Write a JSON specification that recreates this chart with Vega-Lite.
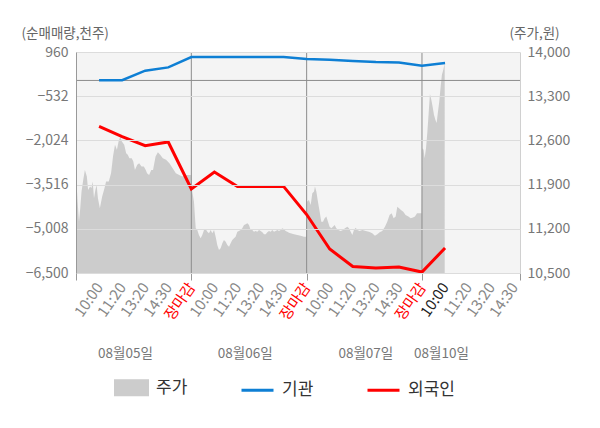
{
  "$schema": "https://vega.github.io/schema/vega-lite/v6.json",
  "width": 444,
  "height": 221,
  "autosize": "none",
  "padding": {"left": 76, "top": 52, "right": 80, "bottom": 155},
  "datasets": {
    "price": [
      {"u": 0, "p": 12081}, {"u": 1.4, "p": 11630}, {"u": 2.6, "p": 11313}, {"u": 3.7, "p": 11531}, {"u": 4.8, "p": 11789},
      {"u": 6.3, "p": 11975}, {"u": 7.7, "p": 12133}, {"u": 9.4, "p": 12027}, {"u": 10.5, "p": 11816}, {"u": 12.2, "p": 11868},
      {"u": 13.4, "p": 11848}, {"u": 14.5, "p": 11948}, {"u": 15.6, "p": 11684}, {"u": 16.8, "p": 11816}, {"u": 17.9, "p": 11895},
      {"u": 19, "p": 11684}, {"u": 20.7, "p": 11526}, {"u": 22.7, "p": 11710}, {"u": 24.7, "p": 11843}, {"u": 26.1, "p": 11948},
      {"u": 28.4, "p": 11948}, {"u": 30.4, "p": 12081}, {"u": 32.1, "p": 12344}, {"u": 33.8, "p": 12530}, {"u": 35.5, "p": 12450},
      {"u": 36.9, "p": 12582}, {"u": 38.4, "p": 12661}, {"u": 39.8, "p": 12582}, {"u": 41.8, "p": 12530}, {"u": 43.5, "p": 12398},
      {"u": 44.9, "p": 12371}, {"u": 46.3, "p": 12319}, {"u": 48.3, "p": 12319}, {"u": 49.7, "p": 12265}, {"u": 51.1, "p": 12133},
      {"u": 53.1, "p": 12213}, {"u": 54.8, "p": 12240}, {"u": 56.8, "p": 12186}, {"u": 58.8, "p": 12186}, {"u": 60.5, "p": 12133},
      {"u": 61.6, "p": 12081}, {"u": 63.4, "p": 12054}, {"u": 65.3, "p": 12133}, {"u": 66.8, "p": 12133}, {"u": 69, "p": 12344},
      {"u": 71, "p": 12414}, {"u": 73, "p": 12371}, {"u": 75.3, "p": 12319}, {"u": 78.1, "p": 12292}, {"u": 81, "p": 12240},
      {"u": 83.8, "p": 12160}, {"u": 86.6, "p": 12081}, {"u": 89.5, "p": 12054}, {"u": 92.3, "p": 12027}, {"u": 95.2, "p": 12054},
      {"u": 98, "p": 12054}, {"u": 99.6, "p": 12054},
      {"u": 100.3, "p": 11848}, {"u": 102.3, "p": 11630}, {"u": 103.8, "p": 11209}, {"u": 105.2, "p": 11182}, {"u": 106.6, "p": 11102},
      {"u": 108.1, "p": 11050}, {"u": 109.5, "p": 11102}, {"u": 111, "p": 11182}, {"u": 112.4, "p": 11198}, {"u": 113.9, "p": 11155},
      {"u": 115.3, "p": 11129}, {"u": 116.8, "p": 11182}, {"u": 118.2, "p": 11129}, {"u": 119.7, "p": 11182}, {"u": 121.1, "p": 11075},
      {"u": 122.5, "p": 10944}, {"u": 124, "p": 10864}, {"u": 125.4, "p": 10891}, {"u": 126.9, "p": 10971}, {"u": 128.3, "p": 11023},
      {"u": 129.8, "p": 10996}, {"u": 131.2, "p": 10944}, {"u": 132.7, "p": 10917}, {"u": 134.1, "p": 10971}, {"u": 135.5, "p": 11023},
      {"u": 137, "p": 11050}, {"u": 138.4, "p": 11075}, {"u": 139.9, "p": 11155}, {"u": 141.3, "p": 11166}, {"u": 142.8, "p": 11182},
      {"u": 144.2, "p": 11209}, {"u": 145.7, "p": 11261}, {"u": 147.1, "p": 11272}, {"u": 148.6, "p": 11288}, {"u": 150, "p": 11261},
      {"u": 151.4, "p": 11182}, {"u": 152.9, "p": 11182}, {"u": 154.3, "p": 11155}, {"u": 155.8, "p": 11166}, {"u": 157.2, "p": 11155},
      {"u": 158.7, "p": 11182}, {"u": 160.1, "p": 11166}, {"u": 161.6, "p": 11145}, {"u": 163, "p": 11113}, {"u": 164.5, "p": 11113},
      {"u": 165.9, "p": 11145}, {"u": 167.3, "p": 11166}, {"u": 168.8, "p": 11155}, {"u": 170.2, "p": 11182}, {"u": 171.7, "p": 11155},
      {"u": 173.1, "p": 11166}, {"u": 174.6, "p": 11182}, {"u": 176, "p": 11166}, {"u": 177.5, "p": 11182}, {"u": 178.9, "p": 11209},
      {"u": 180.3, "p": 11193}, {"u": 181.8, "p": 11166}, {"u": 183.2, "p": 11155}, {"u": 184.7, "p": 11139}, {"u": 186.1, "p": 11129},
      {"u": 189, "p": 11113}, {"u": 191.9, "p": 11102}, {"u": 194.8, "p": 11091}, {"u": 197.7, "p": 11075}, {"u": 199.7, "p": 11075},
      {"u": 200.3, "p": 11630}, {"u": 202, "p": 11657}, {"u": 203.5, "p": 11578}, {"u": 204.9, "p": 11764}, {"u": 206.4, "p": 11789},
      {"u": 207.2, "p": 11868}, {"u": 208.4, "p": 11789}, {"u": 209.8, "p": 11630}, {"u": 211.3, "p": 11472}, {"u": 212.7, "p": 11313},
      {"u": 214.2, "p": 11313}, {"u": 215.6, "p": 11367}, {"u": 217.1, "p": 11393}, {"u": 218.5, "p": 11313}, {"u": 219.9, "p": 11234},
      {"u": 221.4, "p": 11209}, {"u": 222.8, "p": 11234}, {"u": 224.3, "p": 11261}, {"u": 225.7, "p": 11209}, {"u": 227.5, "p": 11182},
      {"u": 229.5, "p": 11166}, {"u": 231.5, "p": 11182}, {"u": 233.2, "p": 11209}, {"u": 235.3, "p": 11234}, {"u": 236.7, "p": 11209},
      {"u": 238.2, "p": 11155}, {"u": 239.6, "p": 11102}, {"u": 241, "p": 11182}, {"u": 242.5, "p": 11218}, {"u": 243.9, "p": 11182},
      {"u": 246, "p": 11166}, {"u": 248.3, "p": 11182}, {"u": 251.2, "p": 11166}, {"u": 254, "p": 11155}, {"u": 256.9, "p": 11129},
      {"u": 259.2, "p": 11091}, {"u": 261.3, "p": 11113}, {"u": 263.3, "p": 11145}, {"u": 265.6, "p": 11166}, {"u": 267.9, "p": 11234},
      {"u": 269.9, "p": 11313}, {"u": 271.9, "p": 11420}, {"u": 273.7, "p": 11447}, {"u": 275.4, "p": 11367}, {"u": 277.2, "p": 11393},
      {"u": 278.6, "p": 11551}, {"u": 280.1, "p": 11526}, {"u": 281.8, "p": 11499}, {"u": 283.8, "p": 11472}, {"u": 285.8, "p": 11420},
      {"u": 288.2, "p": 11393}, {"u": 290.2, "p": 11367}, {"u": 292.2, "p": 11377}, {"u": 293.9, "p": 11393}, {"u": 295.7, "p": 11447},
      {"u": 298, "p": 11447}, {"u": 299.7, "p": 11447},
      {"u": 300.3, "p": 12477}, {"u": 301.4, "p": 12450}, {"u": 302.3, "p": 12319}, {"u": 303.5, "p": 12477}, {"u": 304.6, "p": 12715},
      {"u": 305.8, "p": 13033}, {"u": 306.9, "p": 13334}, {"u": 308.1, "p": 13243}, {"u": 309.2, "p": 13137}, {"u": 310.4, "p": 13006},
      {"u": 311.6, "p": 12926}, {"u": 312.7, "p": 12874}, {"u": 313.9, "p": 13058}, {"u": 315, "p": 13217}, {"u": 316.2, "p": 13454},
      {"u": 317.3, "p": 13640}, {"u": 318.5, "p": 13719}, {"u": 319.7, "p": 13826}
    ],
    "flow": [
      {"u": 20, "inst": 10, "foreign": -1552},
      {"u": 40, "inst": 10, "foreign": -1893},
      {"u": 60, "inst": 329, "foreign": -2203},
      {"u": 80, "inst": 440, "foreign": -2078},
      {"u": 100, "inst": 791, "foreign": -3665},
      {"u": 120, "inst": 791, "foreign": -3091},
      {"u": 140, "inst": 791, "foreign": -3577},
      {"u": 160, "inst": 791, "foreign": -3577},
      {"u": 180, "inst": 791, "foreign": -3577},
      {"u": 200, "inst": 724, "foreign": -4526},
      {"u": 220, "inst": 700, "foreign": -5691},
      {"u": 240, "inst": 656, "foreign": -6278},
      {"u": 260, "inst": 622, "foreign": -6332},
      {"u": 280, "inst": 609, "foreign": -6298},
      {"u": 300, "inst": 497, "foreign": -6467},
      {"u": 320, "inst": 589, "foreign": -5657}
    ],
    "days": [{"u": 100}, {"u": 200}, {"u": 300}],
    "zero": [{"v": 0}]
  },
  "layer": [
    {
      "data": {"name": "price"},
      "mark": {"type": "area", "interpolate": "linear", "clip": true},
      "encoding": {
        "x": {
          "field": "u", "type": "quantitative",
          "scale": {"domain": [0, 385], "nice": false, "zero": false},
          "axis": {
            "orient": "bottom",
            "title": null,
            "grid": false,
            "values": [0, 20, 40, 60, 80, 100, 120, 140, 160, 180, 200, 220, 240, 260, 280, 300, 320, 340, 360, 380, 385],
            "labelExpr": "datum.value == 0 || datum.value == 385 ? '' : datum.value % 100 == 0 ? '장마감' : datum.value % 100 == 20 ? '10:00' : datum.value % 100 == 40 ? '11:20' : datum.value % 100 == 60 ? '13:20' : '14:30'",
            "labelAngle": -55,
            "labelFontSize": 15,
            "labelPadding": 4,
            "labelOverlap": false,
            "labelFlush": false,
            "labelBound": false,
            "labelColor": {"condition": [{"test": "datum.value % 100 == 0", "value": "#ff0000"}, {"test": "datum.value == 320", "value": "#222222"}], "value": "#888888"},
            "tickSize": 7,
            "tickColor": "#999999",
            "tickOpacity": {"condition": {"test": "datum.value % 100 == 0 || datum.value == 385", "value": 1}, "value": 0},
            "domainColor": "#999999"
          }
        },
        "y": {
          "field": "p", "type": "quantitative",
          "scale": {"domain": [10500, 14000], "nice": false, "zero": false},
          "axis": {
            "orient": "right",
            "values": [10500, 11200, 11900, 12600, 13300, 14000],
            "format": ",.0f",
            "grid": false,
            "ticks": false,
            "labelPadding": 7,
            "labelFontSize": 14,
            "labelColor": "#777777",
            "domainColor": "#d0d0d0",
            "title": "(주가,원)",
            "titleAngle": 0,
            "titleAlign": "left",
            "titleBaseline": "middle",
            "titleX": -11,
            "titleY": -19,
            "titleFontSize": 13.5,
            "titleFontWeight": "normal",
            "titleColor": "#666666"
          }
        },
        "y2": {"datum": 10500},
        "color": {
          "datum": "주가",
          "scale": {"domain": ["주가", "기관", "외국인"], "range": ["#cccccc", "#0e7fd4", "#ff0000"]},
          "legend": {
            "title": null,
            "orient": "none",
            "direction": "horizontal",
            "legendX": 38,
            "legendY": 318,
            "symbolSize": 1024,
            "labelFontSize": 17,
            "labelColor": "#333333",
            "labelOffset": 7,
            "gridAlign": "all",
            "columnPadding": 32,
            "encode": {
              "symbols": {
                "update": {
                  "shape": {"signal": "datum.value == '주가' ? 'M-1,-0.44H1V0.44H-1Z' : 'M-1,0H1'"},
                  "fill": {"signal": "datum.value == '주가' ? '#cccccc' : 'transparent'"},
                  "stroke": {"signal": "datum.value == '주가' ? 'transparent' : datum.value == '기관' ? '#0e7fd4' : '#ff0000'"},
                  "strokeWidth": {"value": 3},
                  "opacity": {"value": 1}
                }
              }
            }
          }
        }
      }
    },
    {
      "data": {"name": "days"},
      "mark": {"type": "rule", "color": "#8c8c8c", "strokeWidth": 1},
      "encoding": {
        "x": {
          "field": "u", "type": "quantitative",
          "scale": {"domain": [0, 385], "nice": false, "zero": false},
          "axis": {
            "orient": "bottom",
            "title": null,
            "grid": false,
            "ticks": false,
            "domain": false,
            "offset": 80,
            "values": [42.5, 146.3, 250.9, 316.5],
            "labelExpr": "datum.value < 100 ? '08월05일' : datum.value < 200 ? '08월06일' : datum.value < 300 ? '08월07일' : '08월10일'",
            "labelAngle": 0,
            "labelAlign": "center",
            "labelBaseline": "middle",
            "labelPadding": 0,
            "labelFontSize": 13.5,
            "labelColor": "#777777",
            "labelOverlap": false,
            "labelFlush": false
          }
        }
      }
    },
    {
      "data": {"name": "zero"},
      "mark": {"type": "rule", "color": "#8c8c8c", "strokeWidth": 1},
      "encoding": {
        "y": {"field": "v", "type": "quantitative", "scale": {"domain": [-6500, 960], "nice": false, "zero": false}, "axis": null}
      }
    },
    {
      "data": {"name": "flow"},
      "mark": {"type": "line", "strokeWidth": 2.5},
      "encoding": {
        "x": {"field": "u", "type": "quantitative", "scale": {"domain": [0, 385], "nice": false, "zero": false}, "axis": null},
        "y": {
          "field": "inst", "type": "quantitative",
          "scale": {"domain": [-6500, 960], "nice": false, "zero": false},
          "axis": {
            "orient": "left",
            "values": [960, -532, -2024, -3516, -5008, -6500],
            "format": ",.0f",
            "grid": true,
            "gridColor": "#dcdcdc",
            "zindex": 1,
            "ticks": false,
            "labelPadding": 8,
            "labelFontSize": 14,
            "labelColor": "#777777",
            "domainColor": "#999999",
            "title": "(순매매량,천주)",
            "titleAngle": 0,
            "titleAlign": "left",
            "titleBaseline": "middle",
            "titleX": -55,
            "titleY": -19,
            "titleFontSize": 13.5,
            "titleFontWeight": "normal",
            "titleColor": "#666666"
          }
        },
        "color": {"datum": "기관", "scale": {"domain": ["주가", "기관", "외국인"], "range": ["#cccccc", "#0e7fd4", "#ff0000"]}}
      }
    },
    {
      "data": {"name": "flow"},
      "mark": {"type": "line", "strokeWidth": 3},
      "encoding": {
        "x": {"field": "u", "type": "quantitative", "scale": {"domain": [0, 385], "nice": false, "zero": false}, "axis": null},
        "y": {"field": "foreign", "type": "quantitative", "scale": {"domain": [-6500, 960], "nice": false, "zero": false}, "axis": null},
        "color": {"datum": "외국인", "scale": {"domain": ["주가", "기관", "외국인"], "range": ["#cccccc", "#0e7fd4", "#ff0000"]}}
      }
    }
  ],
  "resolve": {"scale": {"y": "independent"}, "axis": {"x": "independent", "y": "independent"}},
  "config": {
    "font": "Noto Sans CJK KR",
    "view": {"fill": "#f4f4f4", "stroke": null}
  }
}
